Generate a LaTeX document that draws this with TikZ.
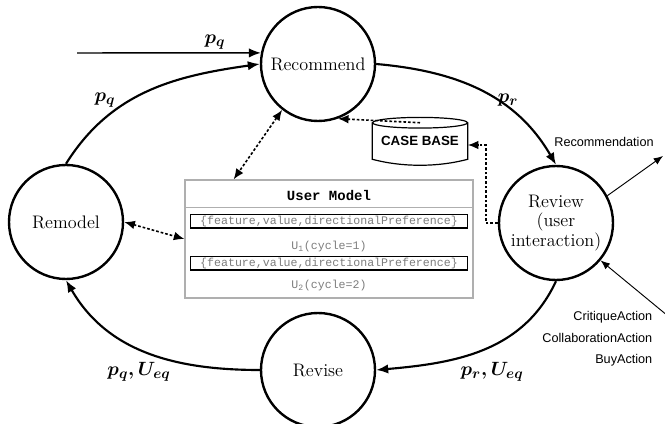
\documentclass[tikz,border=0pt]{standalone}
\usepackage{fontspec}
\usepackage{tikz}
\usetikzlibrary{arrows.meta, calc, positioning}
\newfontfamily\arialfont{Liberation Sans}
\newfontfamily\courierfont{Liberation Mono}
\definecolor{boxgray}{RGB}{175,175,175}
\definecolor{codegray}{RGB}{125,125,125}

\tikzset{
  stage/.style={circle, draw, line width=1.8pt, minimum size=85.5pt, inner sep=0pt, align=center, font=\fontsize{13.6}{14.5}\selectfont},
  flow/.style={line width=1.6pt, -{Latex[length=9pt,width=7pt]}},
  dotlink/.style={line width=1.2pt, dash pattern=on 2pt off 1.5pt, {Latex[length=8pt,width=6.5pt]}-{Latex[length=8pt,width=6.5pt]}},
  dotflow/.style={line width=1.2pt, dash pattern=on 2pt off 1.5pt, -{Latex[length=8pt,width=6.5pt]}},
  thinflow/.style={line width=0.7pt, -{Latex[length=7pt,width=5.5pt]}},
  lbl/.style={font=\boldmath\fontsize{15}{15}\selectfont},
  sanstext/.style={font=\arialfont\fontsize{9.5}{16}\selectfont},
  fieldbox/.style={draw, line width=1pt, minimum width=207.75pt, minimum height=10pt, inner sep=0.5pt, text=codegray, font=\courierfont\fontsize{8.7}{10}\selectfont},
  cycletext/.style={text=codegray, font=\courierfont\fontsize{8.7}{10}\selectfont}
}

\begin{document}
\begin{tikzpicture}[x=0.75pt, y=-0.75pt]
    \useasboundingbox (0,0) rectangle (665,424);

    % Stages of the cycle
    \node[stage] (rec) at (318,64) {Recommend};
    \node[stage] (rem) at (66,222) {Remodel};
    \node[stage] (rev) at (556,223) {Review\\(user\\interaction)};
    \node[stage] (revi) at (318,370) {Revise};

    % Case base
    \node[font=\arialfont\bfseries\fontsize{10}{12}\selectfont, minimum width=71.25pt, minimum height=27pt, inner sep=0pt] (cb) at (420,141) {CASE BASE};
    \draw[line width=0.9pt] (cb.north west) -- (cb.south west)
        .. controls ($(cb.south west)+(30,8)$) and ($(cb.south east)+(-30,8)$) .. (cb.south east) -- (cb.north east);
    \draw[line width=0.9pt] (cb.north) ellipse [x radius=35.6pt, y radius=4pt];

    % User model
    \node[draw=boxgray, line width=0.8pt, minimum width=216pt, minimum height=88.5pt, inner sep=0pt] (um) at (329,239) {};
    \draw[boxgray, line width=0.8pt] ($(um.north west)+(0,28)$) -- ($(um.north east)+(0,28)$);
    \node[font=\courierfont\bfseries\fontsize{10.5}{12}\selectfont] (umtitle) at (329,195) {User Model};
    \node[fieldbox] (f1) at (329,221.5) {\{feature,value,directionalPreference\}};
    \node[cycletext] (u1) at (329,247) {U\textsubscript{1}(cycle=1)};
    \node[fieldbox] (f2) at (329,263.5) {\{feature,value,directionalPreference\}};
    \node[cycletext] (u2) at (329,286) {U\textsubscript{2}(cycle=2)};

    % Cycle
    \coordinate (start) at (77,53);
    \draw[flow, line width=1.1pt] (start) -- (rec.169);
    \draw[flow] (rem.north) to[out=58, in=188] (rec.west);
    \draw[flow] (rec.east) to[out=-5, in=120] (rev.north);
    \draw[flow] (rev.south) to[out=-115, in=5] (revi.east);
    \draw[flow] (revi.west) to[out=180, in=-60] (rem.south);

    % Labels
    \node[lbl] (pin) at (215,42) {$p_q$};
    \node[lbl] (pq) at (105,100) {$p_q$};
    \node[lbl] (pr) at (508,100) {$p_r$};
    \node[lbl] (preq) at (492,372) {$p_r, U_{eq}$};
    \node[lbl] (pqeq) at (139,372) {$p_q, U_{eq}$};

    % Dotted links
    \draw[dotlink] (rec.232) -- ($(um.north west)!0.17!(um.north east)$);
    \draw[dotlink] (rem.east) -- (um.west);
    \draw[dotflow] (cb.north) -- (rec.-70);
    \draw[dotflow] (rev.west) -- ++(-12,0) |- ($(cb.east)+(0,4)$);

    % Interaction
    \coordinate (recout) at (663,156);
    \coordinate (actin) at (668,316);
    \draw[thinflow] (rev.28) -- (recout);
    \draw[thinflow] (actin) -- (rev.-40);
    \node[sanstext] (recolbl) at (604,142) {Recommendation};
    \node[sanstext, align=right, anchor=east] (acts) at (657,339) {CritiqueAction\\CollaborationAction\\BuyAction};
\end{tikzpicture}
\end{document}
